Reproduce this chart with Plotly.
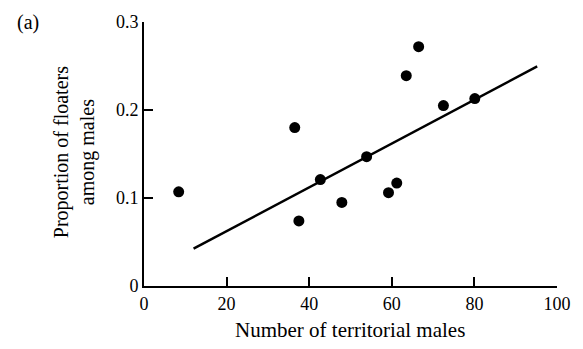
import plotly.graph_objects as go

# Data
territorial_males = [8.4, 36.5, 37.5, 42.7, 47.9, 53.9, 59.2, 61.2, 63.5, 66.5, 72.5, 80.1]
floater_proportion = [0.107, 0.180, 0.074, 0.121, 0.095, 0.147, 0.106, 0.117, 0.239, 0.272, 0.205, 0.213]
fit_x = [12.0, 95.2]
fit_y = [0.0424, 0.2495]
x_ticks = [0, 20, 40, 60, 80, 100]
y_ticks = [0, 0.1, 0.2, 0.3]
y_tick_labels = ["0", "0.1", "0.2", "0.3"]

FONT = "Liberation Serif"
W, H = 583, 349
L, R, T, B = 143.5, 16.5, 20, 63
pw, ph = W - L - R, H - T - B

def px(xp):
    return (xp - L) / pw

def py(yp):
    return (H - B - yp) / ph

fig = go.Figure()
fig.add_trace(go.Scatter(x=fit_x, y=fit_y, mode="lines",
                         line=dict(color="black", width=2.5), showlegend=False))
fig.add_trace(go.Scatter(x=territorial_males, y=floater_proportion, mode="markers",
                         marker=dict(color="black", size=11), showlegend=False))

fig.update_layout(
    width=W, height=H,
    margin=dict(l=L, r=R, t=T, b=B),
    paper_bgcolor="white", plot_bgcolor="white",
    font=dict(family=FONT, size=18, color="black"),
    xaxis=dict(range=[0, 100], tickvals=x_ticks, ticktext=[str(v) for v in x_ticks],
               ticks="inside", ticklen=9, tickwidth=2, tickcolor="black",
               showline=True, linecolor="black", linewidth=2,
               showgrid=False, zeroline=False,
               tickfont=dict(family=FONT, size=18, color="black")),
    yaxis=dict(range=[0, 0.3], tickvals=y_ticks, ticktext=y_tick_labels,
               ticks="inside", ticklen=9, tickwidth=2, tickcolor="black",
               showline=True, linecolor="black", linewidth=2,
               showgrid=False, zeroline=False,
               tickfont=dict(family=FONT, size=18, color="black")),
    annotations=[
        dict(text="Number of territorial males", xref="paper", yref="paper",
             x=px(354), y=py(330), showarrow=False,
             font=dict(family=FONT, size=21, color="black"),
             xanchor="center", yanchor="middle"),
        dict(text="Proportion of floaters<br>among males", xref="paper", yref="paper",
             x=px(72), y=py(151), showarrow=False, textangle=-90,
             font=dict(family=FONT, size=20, color="black"),
             xanchor="center", yanchor="middle"),
        dict(text="(a)", xref="paper", yref="paper",
             x=px(25), y=py(20), showarrow=False,
             font=dict(family=FONT, size=20, color="black"),
             xanchor="center", yanchor="middle"),
    ],
)

fig.write_html("out.html")
